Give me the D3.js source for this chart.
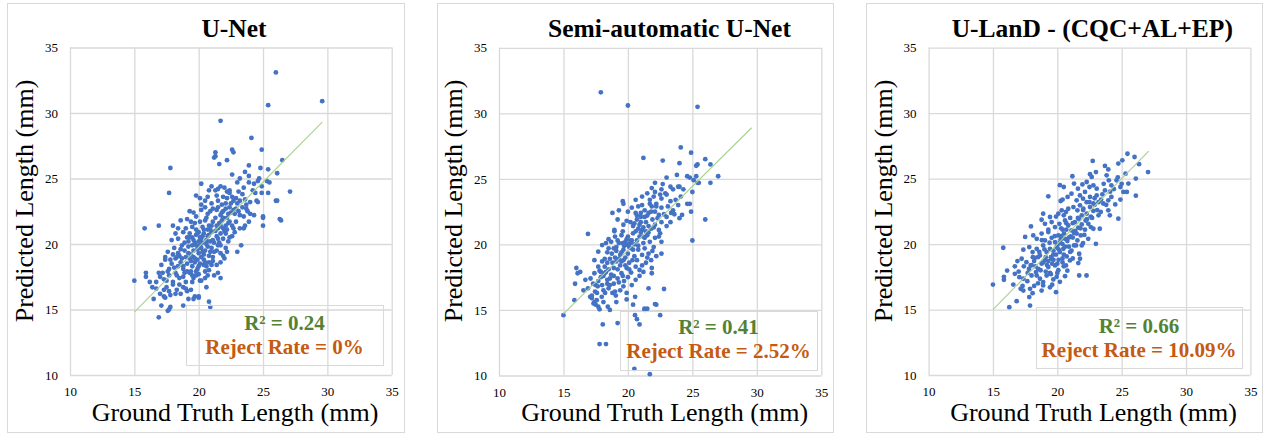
<!DOCTYPE html>
<html>
<head>
<meta charset="utf-8">
<script src="https://cdn.jsdelivr.net/npm/d3@7"></script>
<style>
    html, body { margin: 0; padding: 0; background: #ffffff; }
    svg { display: block; font-family: "Liberation Serif", "Times New Roman", serif; }
</style>
</head>
<body>
<svg id="chart" width="1269" height="433"></svg>
<script>
// values
const PANEL_TITLES = ['U-Net', 'Semi-automatic U-Net', 'U-LanD - (CQC+AL+EP)'];
const R2_LABELS = ['R² = 0.24', 'R² = 0.41', 'R² = 0.66'];
const REJECT_LABELS = ['Reject Rate = 0%', 'Reject Rate = 2.52%', 'Reject Rate = 10.09%'];
const AXIS_TICKS = [10, 15, 20, 25, 30, 35];
const X_TITLE = 'Ground Truth Length (mm)';
const Y_TITLE = 'Predicted Length (mm)';

// trend line end points [x, y]
const TREND_LINES = [
    [[15, 14.8], [29.6, 29.3]],
    [[15, 14.7], [29.6, 28.9]],
    [[15, 15.0], [27.1, 27.1]]
];

const unetPoints = [
    [26.0,33.1],[29.6,30.9],[25.4,30.6],[21.7,29.4],[24.1,28.1],[24.9,27.2],[22.6,27.2],[22.7,27.0],[21.3,27.0],[21.3,26.7],
    [21.2,26.6],[22.2,26.4],[21.6,26.1],[17.8,25.8],[26.5,26.4],[26.1,25.4],[27.1,24.0],[26.0,23.3],[26.4,21.8],[25.0,22.0],
    [25.0,21.4],[17.7,23.9],[15.8,21.2],[16.9,21.4],[15.0,17.2],[16.9,14.4],[15.9,17.8],[15.9,17.5],[20.9,15.2],[20.8,15.6],
    [20.2,24.6],
    [23.9,26.0],[23.6,25.5],[23.9,25.2],[24.8,25.8],[25.4,25.7],[22.6,25.3],[23.0,24.7],[23.2,25.0],[24.7,25.0],[25.3,24.8],
    [25.5,24.7],[21.7,24.4],[21.0,24.4],[23.9,24.7],[24.3,24.6],[24.6,24.8],[20.8,24.1],[21.3,24.1],[21.5,24.2],[22.2,24.0],
    [22.4,24.1],[23.5,24.3],[24.9,24.4],[24.4,23.9],[24.9,23.9],[25.4,23.9],
    [19.8,23.7],[20.1,23.5],[20.5,23.3],[20.7,23.6],[21.4,23.7],[21.5,23.3],[21.9,23.6],[22.2,23.5],[22.4,23.9],[22.6,23.6],
    [22.7,23.3],[22.9,23.5],[23.2,23.3],[23.6,23.4],[24.0,23.2],[24.5,23.3],[24.6,23.2],[26.1,23.3],
    [19.3,22.5],[20.2,22.6],[20.5,22.8],[20.7,22.3],[20.9,22.5],[21.1,22.7],[21.4,22.6],[21.5,22.8],[21.7,22.2],[21.9,22.5],
    [22.1,22.7],[22.3,22.3],[22.4,22.8],[22.7,22.6],[22.9,22.7],[23.2,22.2],[23.5,22.1],[23.7,22.7],[24.0,22.3],[24.3,22.2],
    [23.8,22.5],[25.0,22.1],[26.3,21.9],
    [18.0,21.4],[18.6,21.8],[19.1,21.9],[19.5,21.3],[19.7,21.6],[19.8,21.1],[20.1,21.7],[20.3,21.3],[20.5,21.8],[20.8,21.4],
    [20.9,21.1],[21.1,21.7],[21.4,21.4],[21.5,21.2],[21.8,21.8],[22.1,21.4],[22.2,21.1],[22.4,21.7],[22.6,21.4],[22.9,21.7],
    [23.2,21.2],[23.5,21.2],[23.9,21.7],[23.6,21.4],
    [17.9,20.3],[18.2,20.8],[18.4,20.4],[18.8,20.9],[19.1,20.5],[19.3,20.8],[19.6,20.3],[19.8,20.7],[20.0,20.9],[20.2,20.4],
    [20.4,20.8],[20.6,20.3],[20.8,20.7],[21.0,20.9],[21.1,20.3],[21.4,20.6],[21.7,20.8],[21.9,20.4],[22.1,20.8],[22.3,20.2],
    [22.6,20.6],[22.8,20.9],[23.3,19.9],
    [17.4,19.0],[17.6,19.4],[18.1,19.7],[18.4,19.3],[18.7,19.9],[18.9,19.5],[19.2,19.8],[19.4,19.2],[19.6,19.5],[19.8,19.9],
    [20.0,19.3],[20.2,19.7],[20.4,19.2],[20.7,19.8],[20.9,19.4],[21.1,19.0],[21.4,19.5],[21.5,19.9],[21.7,19.3],[22.1,19.7],
    [22.2,19.4],[23.0,19.4],
    [17.1,18.4],[17.4,18.8],[17.7,18.1],[17.9,18.5],[18.2,18.9],[18.4,18.3],[18.6,18.6],[18.8,18.1],[19.1,18.5],[19.3,18.9],
    [19.5,18.3],[19.7,18.6],[19.9,18.1],[20.1,18.5],[20.4,18.8],[20.6,18.3],[20.8,18.6],[21.0,18.4],[21.4,18.4],[21.7,18.6],
    [22.0,18.9],
    [16.2,17.1],[16.7,17.1],[17.0,17.5],[17.2,17.8],[17.5,17.2],[17.7,17.6],[18.0,17.1],[18.2,17.8],[18.5,17.4],[18.8,17.5],
    [19.0,17.1],[19.3,17.8],[19.6,17.4],[19.8,17.6],[20.2,17.2],[20.5,17.4],[20.7,17.6],[21.5,17.8],[21.7,17.4],
    [16.4,16.7],[16.7,16.6],[17.0,16.2],[17.3,16.5],[17.5,16.7],[17.8,16.1],[18.0,16.9],[18.3,16.5],[18.6,16.2],[18.8,16.7],
    [19.1,16.4],[19.4,16.5],[19.7,16.0],[20.0,16.0],[20.6,16.7],
    [16.5,15.8],[17.1,15.3],[17.3,16.0],[17.4,15.9],[17.8,15.2],[18.8,15.3],[19.2,15.8],[19.6,15.8],[20.0,15.9],[17.6,14.9],
    [17.7,15.0],
    [19.0,19.0],[19.2,20.2],[19.5,19.9],[19.7,20.1],[19.9,19.6],[20.0,20.2],[20.1,19.9],[20.3,20.1],[20.5,19.5],[20.6,20.0],
    [19.4,18.7],[19.6,19.0],[19.9,18.8],[20.2,19.0],[20.4,18.4],[19.1,17.9],[19.4,17.9],[19.8,17.9],[18.7,18.9],[18.5,19.1],
    [20.8,19.1],[21.0,19.7],[21.2,20.1],[21.6,20.1],[21.3,21.0],[21.7,21.4],[20.7,21.1],[20.3,20.6],[19.5,20.5],[18.9,20.1],
    [20.6,22.0],[21.9,22.0],[22.5,22.4],[21.8,23.0],[22.1,23.1],[20.0,18.3],[20.5,17.9],[18.3,17.6],[18.8,18.3],[21.9,21.2],
    [18.1,18.2],[18.3,19.0],[18.6,19.6],[18.9,17.8],[19.2,19.3],[19.3,20.5],[19.5,17.6],[19.7,18.9],[19.9,20.8],[20.0,17.7],
    [20.1,20.5],[20.3,19.4],[20.4,21.1],[20.5,18.6],[20.7,20.6],[20.8,18.0],[20.9,20.2],[21.0,21.4],[21.1,18.7],[21.2,19.4],
    [21.3,22.0],[21.5,20.4],[21.6,21.6],[21.7,19.9],[21.8,22.4],[22.0,21.0],[22.2,22.0],[22.3,21.6],[22.5,23.1],[22.7,21.2],
    [22.8,22.3],[23.0,23.1],[23.1,22.5],[23.4,22.8],[23.7,23.0],[17.8,18.8],[17.6,17.9],[18.0,19.2],[17.3,17.3],[16.9,17.8],
    [18.5,16.9],[19.0,16.6],[19.5,17.1],[18.2,16.2],[17.7,16.4],[19.8,22.1],[19.4,21.7],[20.2,23.0],[21.0,23.1],[22.0,24.3],
    [23.1,24.0],[20.1,17.2],[21.2,17.6],[21.9,19.1],[22.4,20.5],[19.6,22.4],[18.4,21.2],[19.0,21.2],[24.2,24.1],[23.4,23.8]
];

const semiPoints = [
    [17.9,31.6],[20.0,30.6],[25.4,30.5],[24.1,27.4],[21.2,26.6],[24.9,27.0],[22.7,26.4],[24.0,26.2],[26.0,26.5],[25.4,26.1],
    [25.3,26.0],[26.4,26.1],[27.0,25.2],[26.4,24.7],[25.5,24.7],[26.0,21.9],[25.0,20.3],[16.9,20.8],[16.0,18.2],[16.1,17.8],
    [16.3,17.9],[15.9,17.0],[15.85,15.75],[15.0,14.6],[18.05,13.9],[19.2,14.0],[17.8,12.4],[18.3,12.4],[20.5,10.5],[21.7,10.1],
    [20.55,14.6],[20.7,14.3],[20.9,13.9],[21.3,15.0],[21.5,15.1],[22.2,15.4],[22.5,14.6],[22.8,16.6],[20.4,15.4],[19.9,15.8],
    [18.6,15.0],
    [22.1,24.7],[22.7,24.6],[23.0,25.1],[23.8,25.3],[24.0,24.4],[24.6,25.2],[24.8,25.1],[25.1,24.9],[25.3,25.2],[25.4,24.7],
    [21.85,24.3],[22.1,24.0],[22.6,24.2],[22.9,23.9],[23.5,24.2],[23.9,24.4],[24.3,24.2],[25.0,24.0],
    [19.6,23.3],[19.65,23.1],[20.6,23.4],[21.1,23.65],[21.5,23.9],[21.7,23.4],[22.0,23.65],[22.2,23.1],[22.6,23.5],[23.0,23.8],
    [23.3,23.3],[23.7,23.4],[24.1,23.65],[24.6,23.1],[24.8,23.1],
    [18.8,22.4],[19.3,22.6],[20.3,22.8],[20.6,22.4],[20.8,22.9],[21.0,22.1],[21.3,22.6],[21.6,22.4],[21.85,22.9],[22.1,22.5],
    [22.4,22.25],[22.6,22.8],[23.0,22.1],[23.35,22.4],[23.5,22.6],[24.0,22.0],[24.2,22.25],[24.9,22.5],
    [19.2,21.9],[18.95,21.1],[19.65,21.5],[20.2,21.7],[20.4,21.4],[20.7,21.9],[20.9,21.5],[21.1,21.1],[21.4,21.7],[21.6,21.4],
    [21.9,21.9],[22.1,21.5],[22.4,21.1],[22.6,21.7],[23.0,21.4],[23.3,21.7],
    [18.3,20.1],[18.95,21.0],[19.2,20.3],[19.5,20.7],[19.8,20.2],[20.0,20.6],[20.2,20.1],[20.4,20.85],[20.7,20.3],[20.9,20.6],
    [21.2,20.1],[21.5,20.7],[21.7,20.2],[22.1,20.5],[22.5,20.85],[22.6,20.2],
    [18.0,19.95],[17.7,19.45],[18.5,19.7],[18.75,19.3],[19.1,19.8],[19.4,19.2],[19.65,19.6],[19.8,19.95],[20.0,19.3],[20.25,19.7],
    [20.5,19.1],[20.8,19.6],[21.1,19.2],[21.3,19.7],[21.6,19.3],[22.0,19.8],[22.2,19.1],[22.6,19.3],
    [17.4,18.8],[17.7,18.3],[18.0,18.7],[18.2,18.3],[18.4,18.6],[18.6,18.9],[18.9,18.2],[19.1,18.7],[19.4,18.4],[19.65,18.8],
    [19.9,18.2],[20.1,18.6],[20.35,18.8],[20.6,18.3],[20.9,18.05],[21.1,18.4],[21.8,18.8],[21.85,18.2],
    [17.1,17.4],[17.4,17.8],[17.7,17.2],[17.9,17.5],[18.2,17.8],[18.4,17.3],[18.7,17.7],[18.9,17.0],[19.2,17.4],[19.5,17.8],
    [19.7,17.2],[20.0,17.5],[20.25,17.85],[20.6,17.3],[21.2,17.9],[21.85,17.8],
    [16.55,16.5],[16.9,16.65],[17.2,16.1],[17.45,16.4],[17.66,16.8],[17.97,16.0],[18.23,16.3],[18.5,16.65],[18.8,16.3],[19.06,16.1],
    [19.4,16.5],[19.65,16.8],[19.9,16.3],[20.56,16.0],[21.6,16.65],
    [17.07,16.0],[17.2,15.9],[17.33,15.5],[17.4,15.6],[17.58,15.75],[17.7,15.25],[17.8,15.05],[18.1,15.6],[18.44,15.25],[21.28,15.1],
    [22.1,15.45],
    [20.0,20.0],[20.1,19.8],[19.9,20.4],[20.3,20.3],[20.5,20.0],[20.6,21.0],[20.8,21.2],[21.0,20.9],[21.2,21.3],[21.3,20.5],
    [19.7,19.9],[19.5,19.4],[19.3,18.9],[19.0,19.0],[18.8,18.6],[18.5,18.1],[18.3,17.9],[18.1,17.6],[17.9,17.9],[19.6,20.1],
    [20.7,22.2],[21.0,22.4],[21.5,22.2],[21.8,21.2],[22.3,22.0],[21.4,21.0],[19.8,18.4],[19.2,18.1],[18.6,17.4],[18.0,16.9],
    [18.2,18.9],[18.4,19.4],[18.7,20.2],[18.9,17.6],[19.1,19.5],[19.3,20.1],[19.5,18.7],[19.6,21.0],[19.8,19.0],[19.9,21.8],
    [20.1,18.1],[20.2,20.3],[20.4,19.6],[20.5,21.6],[20.7,18.8],[20.8,19.9],[21.0,21.7],[21.2,20.6],[21.3,22.1],[21.5,19.0],
    [21.6,20.9],[21.8,22.5],[22.0,21.3],[22.2,22.9],[22.4,20.6],[22.5,23.8],[22.8,22.3],[23.1,22.9],[23.3,24.4],[23.6,22.3],
    [17.5,16.9],[17.3,17.0],[17.8,18.0],[18.1,16.5],[18.4,17.0],[18.6,16.9],[19.0,16.4],[19.3,17.1],[19.6,17.6],[17.6,16.3],
    [20.3,16.9],[20.9,17.6],[21.4,18.6],[21.9,19.5],[19.0,20.6],[18.5,20.4],[20.0,22.5],[21.1,23.0],[21.7,23.1],[23.9,23.0],
    [17.5,15.4],[19.1,15.6],[16.7,17.3],[18.9,19.7]
];

const ulandPoints = [
    [25.45,26.9],[26.0,26.65],[26.35,26.1],[25.05,26.4],[24.74,26.15],[23.7,25.97],[23.96,25.7],[22.75,26.35],[21.17,25.18],[22.54,25.34],
    [23.0,25.5],[22.67,25.13],[23.83,25.25],[24.0,24.87],[24.6,24.87],[25.3,25.38],[25.52,24.62],[26.1,25.0],[27.05,25.5],
    [20.2,24.5],[20.5,24.36],[21.3,24.62],[21.6,24.23],[21.95,24.56],[22.28,24.74],[22.5,24.36],[22.15,23.98],[22.8,24.49],[23.06,24.23],
    [23.7,24.1],[24.2,24.49],[24.9,24.36],[25.13,23.98],[25.4,23.98],[26.1,23.7],
    [19.3,23.65],[20.26,23.29],[20.41,23.4],[20.8,23.6],[21.1,23.85],[21.5,23.34],[21.76,23.72],[22.0,23.47],[22.28,23.2],[22.54,23.6],
    [22.8,23.1],[23.06,23.72],[23.4,23.4],[23.57,23.1],[23.96,23.34],[24.2,23.6],[24.5,23.03],[24.9,23.4],
    [18.9,22.32],[19.43,22.07],[20.08,22.32],[20.34,22.58],[20.67,22.45],[20.85,22.7],[21.25,22.83],[21.56,22.58],[21.76,22.96],[22.02,22.7],
    [22.28,22.32],[22.54,22.83],[22.8,22.53],[23.2,22.2],[23.37,22.45],[23.96,22.58],[24.08,22.2],[24.74,21.94],
    [17.95,21.35],[18.78,21.86],[19.04,21.55],[19.56,21.68],[19.82,21.3],[20.16,21.55],[20.41,21.1],[20.6,21.8],[20.85,21.42],[21.1,21.04],
    [21.37,21.68],[21.63,21.25],[21.9,21.5],[22.15,21.1],[22.41,21.55],[22.8,21.17],[23.3,21.17],
    [17.5,20.55],[18.13,20.66],[18.4,20.4],[18.78,20.8],[19.04,20.28],[19.3,20.92],[19.56,20.48],[19.82,20.15],[20.08,20.66],[20.26,20.33],
    [20.52,20.8],[20.78,20.23],[21.04,20.58],[21.3,20.84],[21.56,20.28],[21.82,20.66],[22.0,20.08],[22.4,20.4],[23.0,20.02],
    [15.8,19.72],[17.36,19.57],[17.82,19.77],[18.08,19.39],[18.4,19.64],[18.65,19.13],[18.9,19.9],[19.17,19.39],[19.43,19.64],[19.69,19.2],
    [19.95,19.77],[20.2,19.39],[20.47,19.64],[20.73,19.06],[21.1,19.5],[21.45,19.9],[21.7,19.26],[21.76,18.88],
    [16.7,18.3],[17.23,18.88],[17.6,18.62],[17.93,18.37],[18.26,18.95],[18.52,18.1],[18.78,18.5],[19.04,18.75],[19.3,18.24],[19.56,18.88],
    [19.82,18.37],[20.08,18.0],[20.41,18.6],[20.67,18.37],[20.98,18.75],[21.63,18.55],[20.78,17.97],
    [15.85,17.5],[15.85,17.27],[16.1,17.98],[16.7,17.73],[17.05,17.47],[17.36,17.35],[17.67,17.17],[18.0,17.6],[18.34,17.86],[18.65,17.35],
    [18.9,17.1],[19.17,17.6],[19.43,17.8],[19.69,17.3],[19.95,17.5],[20.2,17.12],[20.6,17.55],[21.7,17.6],[22.27,17.6],
    [15.0,16.91],[16.58,16.91],[17.15,16.58],[17.36,16.45],[17.88,16.58],[18.08,16.25],[18.78,16.45],[18.9,16.84],[19.43,16.7],[19.9,16.33],
    [16.27,15.18],[16.84,15.64],[17.82,15.95],[17.88,15.3],
    [19.5,19.0],[19.7,19.5],[19.9,19.2],[20.0,19.9],[20.2,20.1],[20.4,20.0],[20.6,20.4],[20.1,18.8],[19.3,18.7],[19.1,19.0],
    [18.9,18.6],[19.6,18.5],[20.5,19.2],[20.9,19.8],[21.2,20.5],[21.4,21.0],[21.7,21.9],[21.9,22.2],[22.2,21.8],[22.6,22.1],
    [22.9,23.0],[23.2,23.2],[20.3,21.2],[20.7,21.6],[21.0,22.0],[18.6,19.4],[18.2,18.7],[17.8,18.1],[18.4,17.6],[19.1,17.9],
    [18.3,18.3],[18.5,19.0],[18.7,18.0],[19.0,19.6],[19.2,18.4],[19.4,20.1],[19.5,17.7],[19.7,18.8],[19.8,20.6],[20.0,18.5],
    [20.1,19.6],[20.3,20.6],[20.4,18.9],[20.6,19.8],[20.7,21.1],[20.9,20.5],[21.0,19.4],[21.2,21.6],[21.3,19.9],[21.5,20.8],
    [21.6,22.0],[21.8,21.2],[22.0,22.6],[22.1,20.7],[22.3,21.9],[22.5,23.2],[22.7,22.0],[22.9,23.5],[23.1,22.6],[23.5,23.8],
    [23.8,23.0],[24.1,24.0],[24.4,24.2],[23.6,24.6],[24.7,25.1],[25.0,24.6],[18.0,18.4],[17.7,17.8],[17.4,18.3],[17.0,17.9],
    [16.9,18.7],[18.1,19.0],[18.8,20.3],[19.3,21.1],[19.9,22.1],[20.5,22.2],[20.0,17.8],[19.6,16.9],[18.5,17.0],[18.2,16.8],
    [17.3,16.8],[21.9,19.9],[22.6,21.3],[21.2,18.9],[20.5,18.3]
];

const PANEL_POINTS = [unetPoints, semiPoints, ulandPoints];

// page layout of each panel, in pixels
const PANEL_LAYOUT = [
    { frame: [7, 3, 404, 432], plot: [70, 47.5, 391.7, 375], titleX: 234, xTitleX: 235, box: [186, 305, 383, 365], r2Y: 330, rejY: 354 },
    { frame: [437, 3, 833, 432], plot: [499, 47.8, 821.3, 375.5], titleX: 669.5, xTitleX: 664.7, box: [620, 311, 817, 370], r2Y: 334, rejY: 358 },
    { frame: [866, 3, 1262, 432], plot: [928.6, 47.7, 1250.4, 375], titleX: 1092.3, xTitleX: 1093.5, box: [1036, 307, 1242, 368], r2Y: 333, rejY: 357 }
];

const GRID_COLOR = '#d9d9d9';
const POINT_COLOR = '#4472c4';
const TREND_COLOR = '#a9d18e';
const R2_COLOR = '#548235';
const REJECT_COLOR = '#c55a11';

const svg = d3.select('#chart');

function drawPanel(index) {
    const layout = PANEL_LAYOUT[index];
    const [left, top, right, bottom] = layout.plot;
    const width = right - left;
    const height = bottom - top;

    const [fx0, fy0, fx1, fy1] = layout.frame;
    svg.append('rect')
        .attr('x', fx0 + 0.5).attr('y', fy0 + 0.5)
        .attr('width', fx1 - fx0).attr('height', fy1 - fy0)
        .attr('fill', '#ffffff')
        .attr('stroke', GRID_COLOR)
        .attr('stroke-width', 1);

    const x = d3.scaleLinear().domain([10, 35]).range([0, width]);
    const y = d3.scaleLinear().domain([10, 35]).range([height, 0]);

    const g = svg.append('g').attr('transform', `translate(${left},${top})`);

    const xAxis = g.append('g')
        .attr('transform', `translate(0,${height})`)
        .call(d3.axisBottom(x).tickValues(AXIS_TICKS).tickSize(-height).tickPadding(12));
    const yAxis = g.append('g')
        .call(d3.axisLeft(y).tickValues(AXIS_TICKS).tickSize(-width).tickPadding(12));

    [xAxis, yAxis].forEach(axis => {
        axis.select('.domain').remove();
        axis.selectAll('line').attr('stroke', GRID_COLOR).attr('stroke-width', 1.3);
        axis.selectAll('text')
            .attr('fill', '#000000')
            .style('font-family', '"Liberation Serif", "Times New Roman", serif')
            .style('font-size', '13px');
    });

    // points
    g.append('g')
        .selectAll('circle')
        .data(PANEL_POINTS[index])
        .join('circle')
        .attr('cx', d => x(d[0]))
        .attr('cy', d => y(d[1]))
        .attr('r', 2.4)
        .attr('fill', POINT_COLOR);

    // linear trend line
    const [p0, p1] = TREND_LINES[index];
    g.append('line')
        .attr('x1', x(p0[0])).attr('y1', y(p0[1]))
        .attr('x2', x(p1[0])).attr('y2', y(p1[1]))
        .attr('stroke', TREND_COLOR)
        .attr('stroke-width', 1.1);

    // title
    svg.append('text')
        .attr('x', layout.titleX)
        .attr('y', 37)
        .attr('text-anchor', 'middle')
        .attr('font-size', 25.5)
        .attr('font-weight', 'bold')
        .text(PANEL_TITLES[index]);

    // axis titles
    svg.append('text')
        .attr('x', layout.xTitleX)
        .attr('y', 421)
        .attr('text-anchor', 'middle')
        .attr('font-size', 26)
        .text(X_TITLE);

    svg.append('text')
        .attr('transform', `translate(${left - 37},201) rotate(-90)`)
        .attr('text-anchor', 'middle')
        .attr('font-size', 26)
        .text(Y_TITLE);

    // label box
    const [bx0, by0, bx1, by1] = layout.box;
    svg.append('rect')
        .attr('x', bx0 + 0.5).attr('y', by0 + 0.5)
        .attr('width', bx1 - bx0).attr('height', by1 - by0)
        .attr('fill', 'none')
        .attr('stroke', GRID_COLOR)
        .attr('stroke-width', 1);

    const boxCenter = (bx0 + bx1) / 2;
    svg.append('text')
        .attr('x', boxCenter)
        .attr('y', layout.r2Y)
        .attr('text-anchor', 'middle')
        .attr('font-size', 21)
        .attr('font-weight', 'bold')
        .attr('fill', R2_COLOR)
        .text(R2_LABELS[index]);

    svg.append('text')
        .attr('x', boxCenter)
        .attr('y', layout.rejY)
        .attr('text-anchor', 'middle')
        .attr('font-size', 21)
        .attr('font-weight', 'bold')
        .attr('fill', REJECT_COLOR)
        .text(REJECT_LABELS[index]);
}

svg.append('rect').attr('width', 1269).attr('height', 433).attr('fill', '#ffffff');
PANEL_TITLES.forEach((_, i) => drawPanel(i));
</script>
</body>
</html>
